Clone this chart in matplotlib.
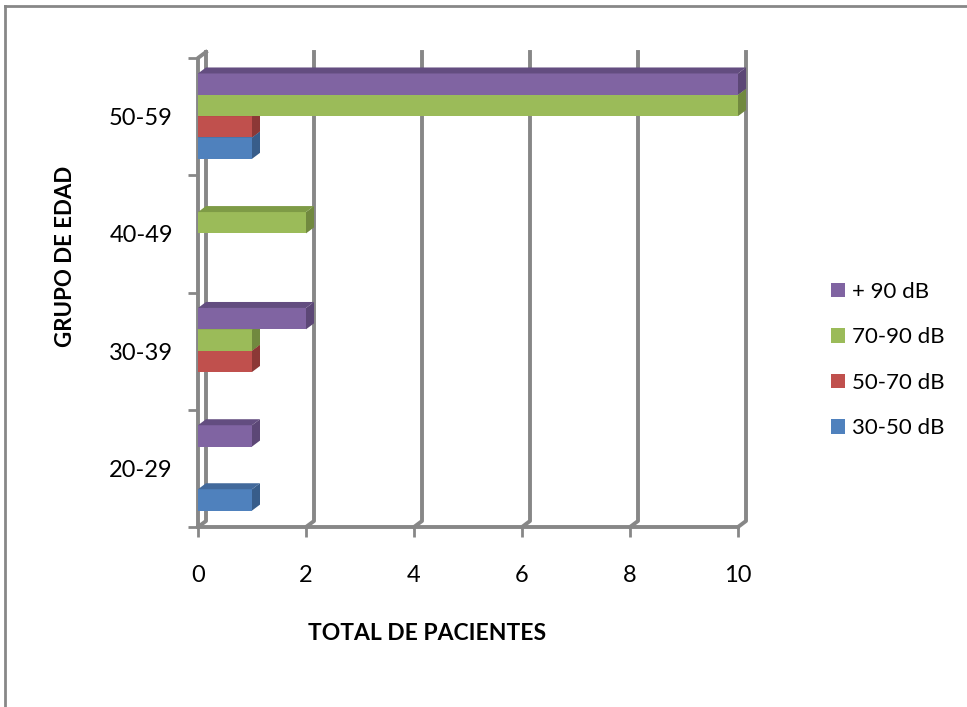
import matplotlib
matplotlib.use('Agg')
import matplotlib.pyplot as plt
from matplotlib.patches import Polygon, Patch
from matplotlib.lines import Line2D
import numpy as np

plt.rcParams['font.family'] = ['Lato', 'DejaVu Sans']

# ---- data ----
categories = ['20-29', '30-39', '40-49', '50-59']
series_names = ['30-50 dB', '50-70 dB', '70-90 dB', '+ 90 dB']
s_30_50 = [1, 0, 0, 1]
s_50_70 = [0, 1, 0, 1]
s_70_90 = [0, 1, 2, 10]
s_90_plus = [1, 2, 0, 10]
x_ticks = [0, 2, 4, 6, 8, 10]
x_label = 'TOTAL DE PACIENTES'
y_label = 'GRUPO DE EDAD'

series_values = [s_30_50, s_50_70, s_70_90, s_90_plus]
front_cols = ['#4F81BD', '#C0504D', '#9BBB59', '#8064A2']
side_cols = ['#385D8A', '#8C3836', '#71893F', '#5C4776']
top_cols = ['#42699B', '#A0403E', '#7E9B46', '#634D80']
gray = '#878787'

W, H = 967, 707
fig = plt.figure(figsize=(W / 100, H / 100), dpi=100)
fig.patch.set_facecolor('white')

# outer border (top and left visible)
fig.add_artist(Line2D([5 / W, 1.0], [1 - 6 / H, 1 - 6 / H], color=gray, lw=2))
fig.add_artist(Line2D([5 / W, 5 / W], [0, 1 - 6 / H], color=gray, lw=2))

x0, x1, yt, yb = 198, 738, 58, 527
ax = fig.add_axes([x0 / W, 1 - yb / H, (x1 - x0) / W, (yb - yt) / H])
ax.set_xlim(0, 10)
ax.set_ylim(-0.5, 3.5)
for s in ax.spines.values():
    s.set_visible(False)
ax.patch.set_alpha(0)

pxx = (x1 - x0) / 10.0
pxy = (yb - yt) / 4.0
dx = 8 / pxx
dy = 6 / pxy
lw_g = 2.8

# back gridlines with floor bends
for k in x_ticks:
    ax.plot([k, k + dx, k + dx], [-0.5, -0.5 + dy, 3.5 + dy], color=gray, lw=lw_g,
            solid_joinstyle='round', clip_on=False, zorder=1)
# floor front edge and left axis line
ax.plot([0, 10], [-0.5, -0.5], color=gray, lw=lw_g, clip_on=False, zorder=1)
ax.plot([0, 0, dx], [-0.5, 3.5, 3.5 + dy], color=gray, lw=lw_g, clip_on=False, zorder=1)

# bars
h = 0.182
off = 0.14
for ci in range(len(categories)):
    for j, vals in enumerate(series_values):
        v = vals[ci]
        if v == 0:
            continue
        yb0 = ci - 0.5 + off + j * h
        ax.barh(yb0 + h / 2, v, height=h, left=0, color=front_cols[j],
                edgecolor='none', zorder=3 + ci * 10 + j, label=None)
        side = Polygon([[v, yb0], [v + dx, yb0 + dy], [v + dx, yb0 + h + dy], [v, yb0 + h]],
                       closed=True, facecolor=side_cols[j], edgecolor='none',
                       zorder=3 + ci * 10 + j, clip_on=False)
        ax.add_patch(side)
        top = Polygon([[0, yb0 + h], [v, yb0 + h], [v + dx, yb0 + h + dy], [dx, yb0 + h + dy]],
                      closed=True, facecolor=top_cols[j], edgecolor='none',
                      zorder=3 + ci * 10 + j, clip_on=False)
        ax.add_patch(top)

# ticks
ax.set_xticks(x_ticks)
ax.set_xticklabels([str(t) for t in x_ticks])
ax.tick_params(axis='x', which='major', direction='out', length=7, width=2,
               color=gray, labelsize=17, pad=20)
ax.set_yticks(range(len(categories)))
ax.set_yticklabels(categories)
ax.set_yticks(np.arange(-0.5, 3.6, 1.0), minor=True)
ax.tick_params(axis='y', which='major', length=0, labelsize=17, pad=18)
ax.tick_params(axis='y', which='minor', direction='out', length=7, width=2, color=gray)

fig.text(427 / W, 1 - 633 / H, x_label, ha='center', va='center',
         fontsize=16.5, fontweight='bold')
fig.text(66 / W, 1 - 256 / H, y_label, ha='center', va='center',
         fontsize=16, fontweight='bold', rotation=90)

# legend
handles = [Patch(facecolor=front_cols[j], edgecolor='none', label=series_names[j])
           for j in [3, 2, 1, 0]]
leg = fig.legend(handles=handles, loc='center left', bbox_to_anchor=(822 / W, 1 - 360 / H),
                 frameon=False, fontsize=16, handlelength=0.62, handleheight=0.62,
                 handletextpad=0.35, labelspacing=1.15, borderaxespad=0)

fig.savefig('out.png', dpi=100, facecolor='white')
